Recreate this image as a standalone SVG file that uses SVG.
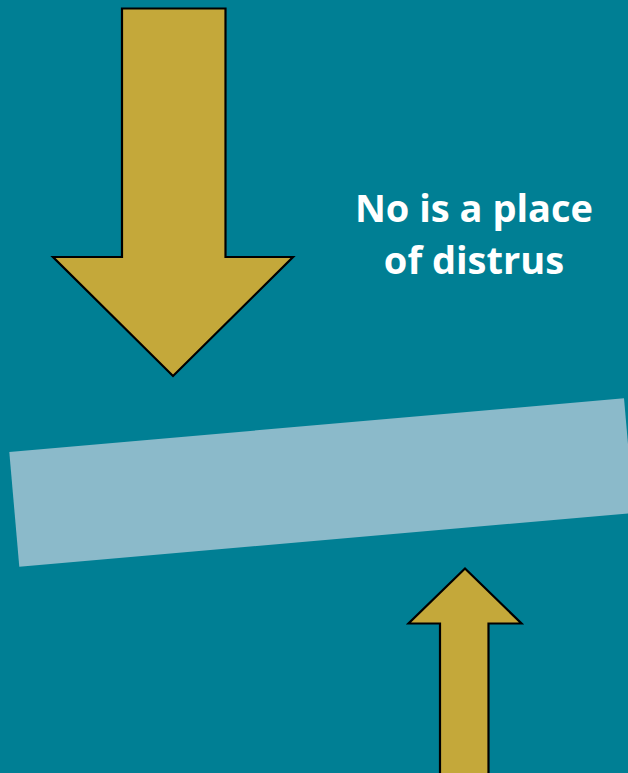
<svg xmlns="http://www.w3.org/2000/svg" width="628" height="773" viewBox="0 0 628 773">
<style>
.arrow{fill:#C4A83A;stroke:#000;stroke-width:2.2;stroke-linejoin:miter}
.lbl{font-family:"Open Sans","Noto Sans","Liberation Sans",sans-serif;font-weight:bold;font-size:38px;fill:#fff;text-anchor:middle}
</style>
<rect x="0" y="0" width="628" height="773" fill="#007F94"/>
<g id="bar">
<polygon points="9.3,452 624,398.3 634,513 19.3,566.7" fill="#8BBACA"/>
</g>
<g id="arrow-down">
<polygon class="arrow" points="122,8.5 225.5,8.5 225.5,257 293,257 173,376 53,257 122,257"/>
</g>
<g id="arrow-up">
<polygon class="arrow" points="465,568.5 521.5,623.5 488.5,623.5 488.5,775 440,775 440,623.5 408.5,623.5"/>
</g>
<g id="label">
<text class="lbl" x="474" y="222">No is a place</text>
<text class="lbl" x="474" y="274">of distrus</text>
</g>
<g id="connectors"/>
</svg>
